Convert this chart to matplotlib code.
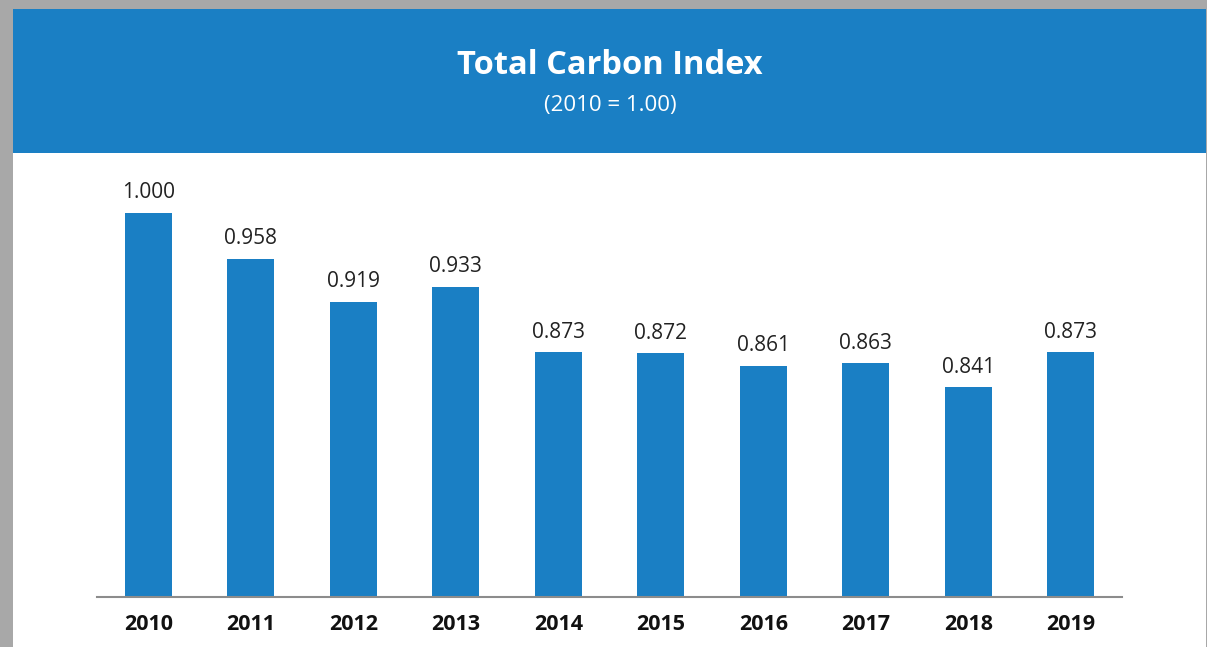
import matplotlib.pyplot as plt
from matplotlib.patches import Rectangle

years = ['2010', '2011', '2012', '2013', '2014', '2015', '2016', '2017', '2018', '2019']
index_values = [1.000, 0.958, 0.919, 0.933, 0.873, 0.872, 0.861, 0.863, 0.841, 0.873]

blue = '#1a7fc4'
W, H = 1207, 647

plt.rcParams['font.family'] = ['Open Sans', 'DejaVu Sans']

fig = plt.figure(figsize=(W / 100, H / 100), dpi=100, facecolor='#a8a8a8')

# white page and blue header band
fig.patches.append(Rectangle((13 / W, 0), (1206 - 13) / W, 1 - 9 / H,
                             transform=fig.transFigure, facecolor='white', edgecolor='none', zorder=0))
fig.patches.append(Rectangle((13 / W, 1 - 153 / H), (1206 - 13) / W, (153 - 9) / H,
                             transform=fig.transFigure, facecolor=blue, edgecolor='none', zorder=1))

fig.text(610 / W, 1 - 66 / H, 'Total Carbon Index', color='white', fontsize=23.5,
         fontweight='bold', ha='center', va='center')
fig.text(610 / W, 1 - 106 / H, '(2010 = 1.00)', color='white', fontsize=16,
         ha='center', va='center')

ax = fig.add_axes([97 / W, 1 - 597 / H, (1122 - 97) / W, (597 - 180) / H])
ax.set_facecolor('none')
ax.set_zorder(3)

x = range(len(years))
bars = ax.bar(x, index_values, width=0.46, color=blue)
ax.set_ylim(0.65, 0.65 + (597 - 180) / 1097)
ax.set_xlim(-0.5, len(years) - 0.5)

for xi, v in zip(x, index_values):
    ax.annotate(f'{v:.3f}', (xi, v), xytext=(0, 7), textcoords='offset points',
                ha='center', va='bottom', fontsize=15, color='#222222')

ax.set_xticks(list(x))
ax.set_xticklabels(years, fontsize=15.5, fontweight='bold', color='#111111')
ax.tick_params(axis='x', length=0, pad=12)
ax.set_yticks([])
for side in ['top', 'right', 'left']:
    ax.spines[side].set_visible(False)
ax.spines['bottom'].set_color('#8c8c8c')
ax.spines['bottom'].set_linewidth(1.5)

plt.savefig('out.png', dpi=100, facecolor=fig.get_facecolor())
